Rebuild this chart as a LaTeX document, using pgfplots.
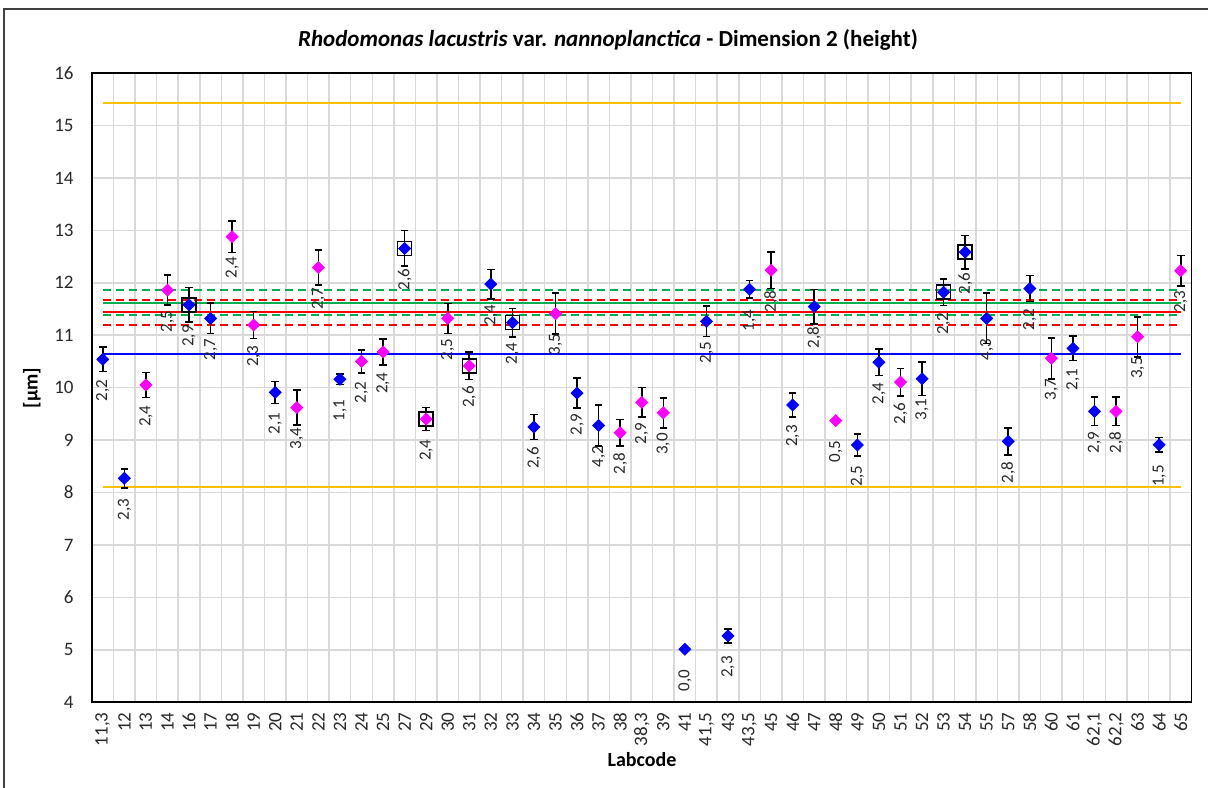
\documentclass[border=0pt]{standalone}
\usepackage{pgfplots}
\usepackage{pgfplotstable}
\pgfplotsset{compat=1.18}
\usepackage{fontspec}
\setmainfont{Carlito}
\definecolor{gridgray}{RGB}{217,217,217}
\definecolor{labelgray}{RGB}{40,40,40}
\definecolor{blueM}{RGB}{0,0,255}
\definecolor{magM}{RGB}{255,0,255}
\definecolor{goldL}{RGB}{255,192,0}
\definecolor{greenL}{RGB}{0,176,80}
\definecolor{redL}{RGB}{255,0,0}

\pgfplotstableread{
x y e lab
0 10.54 0.235 2,2
1 8.27 0.18 2,3
4 11.58 0.33 2,9
5 11.32 0.29 2,7
8 9.91 0.21 2,1
11 10.16 0.10 1,1
14 12.655 0.34 2,6
18 11.975 0.28 2,4
19 11.24 0.27 2,4
20 9.25 0.24 2,6
22 9.895 0.285 2,9
23 9.28 0.39 4,2
28 11.265 0.29 2,5
29 5.265 0.13 2,3
30 11.875 0.165 1,4
32 9.67 0.23 2,3
33 11.545 0.33 2,8
35 8.905 0.21 2,5
36 10.485 0.255 2,4
38 10.17 0.32 3,1
39 11.82 0.255 2,2
40 12.585 0.32 2,6
41 11.32 0.48 4,3
42 8.975 0.26 2,8
43 11.89 0.25 2,2
45 10.75 0.23 2,1
46 9.547 0.27 2,9
49 8.91 0.14 1,5
}\blueData

\pgfplotstableread{
x y lab
27 5.01 0,0
}\blueNoErr

\pgfplotstableread{
x y e lab
2 10.05 0.24 2,4
3 11.86 0.285 2,5
6 12.88 0.30 2,4
7 11.195 0.26 2,3
9 9.62 0.33 3,4
10 12.29 0.33 2,7
12 10.50 0.22 2,2
13 10.68 0.25 2,4
15 9.40 0.22 2,4
16 11.32 0.285 2,5
17 10.415 0.26 2,6
21 11.41 0.39 3,5
24 9.14 0.25 2,8
25 9.72 0.28 2,9
26 9.52 0.285 3,0
31 12.24 0.345 2,8
34 9.37 0.03 0,5
37 10.105 0.26 2,6
44 10.56 0.39 3,7
47 9.547 0.27 2,8
48 10.97 0.38 3,5
50 12.23 0.29 2,3
}\magData

\pgfplotstableread{
x y
4 11.58
14 12.655
15 9.40
17 10.415
19 11.24
39 11.82
40 12.585
}\boxData

\begin{document}
\begin{tikzpicture}
\useasboundingbox (0,0) rectangle (604pt,393.5pt);
\draw[line width=0.75pt, black!75] (2pt,-2pt) -- (2pt,389pt) -- (606pt,389pt);
\begin{axis}[
  scale only axis,
  width=549.75pt, height=314.55pt,
  at={(46pt,42.4pt)}, anchor=south west,
  xmin=-0.5, xmax=50.5, ymin=4, ymax=16,
  ytick={4,5,...,16},
  xtick={0,1,...,50},
  xticklabels={{11,3},12,13,14,16,17,18,19,20,21,22,23,24,25,27,29,30,31,32,33,34,35,36,37,38,{38,3},39,41,{41,5},43,{43,5},45,46,47,48,49,50,51,52,53,54,55,57,58,60,61,{62,1},{62,2},63,64,65},
  minor xtick={0.5,1.5,...,49.5},
  xminorgrids=true, ymajorgrids=true, xmajorgrids=false,
  grid style={draw=gridgray, line width=0.75pt},
  minor grid style={draw=gridgray, line width=0.75pt},
  major tick length=0pt, minor tick length=0pt,
  axis line style={black, line width=0.75pt},
  tick label style={font=\fontsize{9.5}{11}\selectfont, text=labelgray},
  xticklabel style={rotate=90, anchor=east, inner sep=0pt},
  yticklabel style={anchor=east, inner sep=0pt},
  xticklabel shift=5pt, yticklabel shift=9pt,
  /pgf/number format/assume math mode=true,
  clip=false,
  nodes near coords style={font=\fontsize{8.5}{9}\selectfont, text=labelgray, rotate=90, anchor=east, inner xsep=10pt, inner ysep=0pt},
]
% reference lines
\addplot[goldL, line width=0.9pt, no marks] coordinates {(0,15.43) (50,15.43)};
\addplot[goldL, line width=0.9pt, no marks] coordinates {(0,8.10) (50,8.10)};
\addplot[blueM, line width=0.75pt, no marks] coordinates {(0,10.64) (50,10.64)};
\addplot[greenL, line width=1pt, dash pattern=on 4pt off 2.5pt, no marks] coordinates {(0,11.86) (50,11.86)};
\addplot[greenL, line width=1pt, dash pattern=on 4pt off 2.5pt, no marks] coordinates {(0,11.39) (50,11.39)};
\addplot[greenL, line width=1pt, no marks] coordinates {(0,11.61) (50,11.61)};
\addplot[redL, line width=1pt, dash pattern=on 4pt off 2.5pt, no marks] coordinates {(0,11.68) (50,11.68)};
\addplot[redL, line width=1pt, dash pattern=on 4pt off 2.5pt, no marks] coordinates {(0,11.195) (50,11.195)};
\addplot[redL, line width=0.75pt, no marks] coordinates {(0,11.44) (50,11.44)};
% boxes
\addplot[only marks, mark=square, mark size=3.5pt, mark options={black, line width=0.75pt}] table[x=x,y=y]{\boxData};
% blue points
\addplot[only marks, mark=square*, mark size=2.1pt, mark options={blueM, fill=blueM, rotate=45},
  nodes near coords, point meta=explicit symbolic,
  error bars/.cd, y dir=both, y explicit,
  error bar style={black, line width=0.8pt},
  error mark options={black, line width=0.8pt, mark size=1.9pt, rotate=90}]
  table[x=x,y=y,y error=e,meta=lab]{\blueData};
\addplot[only marks, mark=square*, mark size=2.1pt, mark options={blueM, fill=blueM, rotate=45},
  nodes near coords, point meta=explicit symbolic]
  table[x=x,y=y,meta=lab]{\blueNoErr};
% magenta points
\addplot[only marks, mark=square*, mark size=2.1pt, mark options={magM, fill=magM, rotate=45},
  nodes near coords, point meta=explicit symbolic,
  error bars/.cd, y dir=both, y explicit,
  error bar style={black, line width=0.8pt},
  error mark options={black, line width=0.8pt, mark size=1.9pt, rotate=90}]
  table[x=x,y=y,y error=e,meta=lab]{\magData};
\end{axis}
\node[font=\bfseries\fontsize{11.5}{13}\selectfont] at (304pt,373.5pt) {\textit{Rhodomonas lacustris} var. \textit{nannoplanctica} - Dimension 2 (height)};
\node[font=\bfseries\fontsize{10}{12}\selectfont, rotate=90] at (16pt,199.5pt) {[µm]};
\node[font=\bfseries\fontsize{10}{12}\selectfont] at (321pt,13.5pt) {Labcode};
\end{tikzpicture}
\end{document}
